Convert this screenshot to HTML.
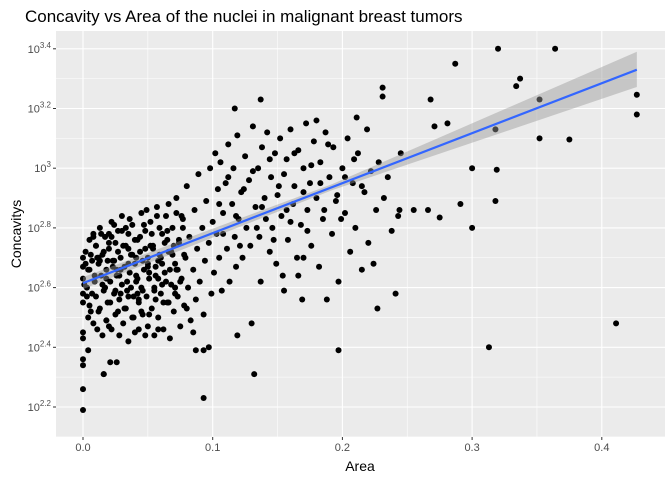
<!DOCTYPE html>
<html><head><meta charset="utf-8">
<style>
body{margin:0;background:#fff;}
svg text{font-family:"Liberation Sans",sans-serif;}
</style></head>
<body>
<svg id="chart" width="672" height="480" xmlns="http://www.w3.org/2000/svg">
<text x="25" y="22" font-size="17" fill="#000">Concavity vs Area of the nuclei in malignant breast tumors</text>
<text x="360" y="471" font-size="14" text-anchor="middle" fill="#000">Area</text>
<text transform="translate(21,234) rotate(-90)" font-size="14" text-anchor="middle" fill="#000">Concavitys</text>
</svg>
<script>
const xTicks=[0,0.1,0.2,0.3,0.4];
const xTickLabels=["0.0","0.1","0.2","0.3","0.4"];
const yTicks=[2.2,2.4,2.6,2.8,3.0,3.2,3.4];
const yTickExps=["2.2","2.4","2.6","2.8","","3.2","3.4"];
const fitX=[0,0.427];
const fitY=[2.615,3.33];
const bandLo=[2.595,3.272];
const bandHi=[2.635,3.39];
const areas=[0,0,0,0,0,0,0,0,0,0,0,0.002,0.003,0.004,0.005,0.005,0.006,0.007,0.008,0.009,0.010,0.010,0.011,0.012,0.013,0.013,0.014,0.015,0.015,0.016,0.017,0.018,0.018,0.019,0.020,0.020,0.021,0.022,0.022,0.023,0.024,0.025,0.025,0.026,0.027,0.028,0.028,0.029,0.030,0.030,0.031,0.032,0.033,0.033,0.034,0.035,0.035,0.036,0.037,0.038,0.038,0.039,0.040,0.040,0.041,0.042,0.043,0.043,0.044,0.045,0.045,0.046,0.047,0.048,0.048,0.049,0.050,0.050,0.051,0.052,0.053,0.054,0.055,0.055,0.056,0.057,0.058,0.058,0.059,0.060,0.061,0.062,0.063,0.064,0.065,0.066,0.067,0.068,0.069,0.070,0.071,0.072,0.073,0.074,0.075,0.076,0.077,0.078,0.079,0.080,0.081,0.082,0.083,0.085,0.086,0.087,0.088,0.089,0.090,0.092,0.093,0.094,0.095,0.097,0.098,0.099,0.100,0.101,0.102,0.103,0.104,0.105,0.106,0.107,0.108,0.110,0.111,0.112,0.113,0.115,0.116,0.117,0.118,0.119,0.120,0.122,0.123,0.125,0.126,0.128,0.129,0.131,0.133,0.135,0.136,0.137,0.138,0.140,0.141,0.142,0.144,0.145,0.146,0.148,0.149,0.150,0.152,0.153,0.154,0.155,0.157,0.158,0.160,0.162,0.163,0.165,0.166,0.168,0.170,0.172,0.173,0.175,0.176,0.178,0.180,0.182,0.183,0.185,0.187,0.188,0.190,0.192,0.193,0.195,0.197,0.200,0.202,0.204,0.206,0.208,0.210,0.212,0.215,0.217,0.219,0.220,0.222,0.226,0.228,0.232,0.235,0.238,0.243,0.245,
0.004,0.016,0.021,0.026,0.016,0.132,0.197,0.087,0.093,0.097,0.130,0.119,0.085,0.169,0.155,0.166,0.170,0.093,0.137,0.117,0.211,0.180,0.268,0.271,0.231,0.231,0.244,0.255,0.266,0.224,0.227,0.241,
0.320,0.364,0.287,0.337,0.334,0.427,0.427,0.352,0.318,0.352,0.375,0.281,0.300,0.319,0.318,0.291,0.300,0.411,0.313,0.275,0.02,0.035,0.05,0.065,0.012,0.028,0.042,0.058,0.072,0.008,
0.003,0.006,0.009,0.012,0.014,0.017,0.019,0.021,0.024,0.026,0.029,0.031,0.034,0.036,0.039,0.041,0.044,0.046,0.049,0.051,0.054,0.056,0.059,0.061,0.064,0.066,0.069,0.071,0.074,0.076,
0.002,0.005,0.008,0.011,0.015,0.018,0.020,0.023,0.025,0.027,0.030,0.032,0.035,0.037,0.040,0.042,0.045,0.047,0.050,0.052,0.055,0.057,0.060,0.062,0.065,0.067,0.070,0.072,0.075,0.078,
0.001,0.004,0.007,0.010,0.013,0.016,0.018,0.022,0.024,0.027,0.029,0.033,0.035,0.038,0.041,0.043,0.046,0.048,0.051,0.053,0.056,0.058,0.061,0.063,0.066,0.068,0.071,0.073,0.077,0.080,
0.105,0.112,0.118,0.124,0.131,0.138,0.144,0.151,0.157,0.163,0.170,0.176,0.183,0.189,0.196,0.202,0.209,0.215,0.108,0.121,0.134,0.147,0.160,0.173,0.186,0.199];
const concavities=[2.63,2.58,2.55,2.67,2.70,2.45,2.43,2.36,2.34,2.26,2.19,2.72,2.60,2.50,2.76,2.66,2.52,2.69,2.48,2.62,2.74,2.57,2.46,2.68,2.80,2.53,2.64,2.71,2.44,2.59,2.77,2.49,2.66,2.55,2.73,2.47,2.62,2.82,2.46,2.69,2.58,2.75,2.51,2.64,2.79,2.44,2.56,2.70,2.61,2.84,2.48,2.67,2.74,2.53,2.59,2.78,2.42,2.65,2.71,2.50,2.81,2.57,2.68,2.45,2.62,2.76,2.46,2.55,2.72,2.85,2.60,2.51,2.66,2.79,2.44,2.57,2.70,2.47,2.63,2.82,2.53,2.74,2.44,2.60,2.67,2.87,2.50,2.46,2.71,2.58,2.78,2.46,2.65,2.84,2.55,2.72,2.43,2.61,2.80,2.52,2.68,2.90,2.57,2.75,2.47,2.63,2.83,2.54,2.70,2.94,2.60,2.77,2.49,2.66,2.86,2.56,2.73,2.98,2.62,2.80,2.51,2.69,2.89,2.75,3.00,2.58,2.82,2.65,3.05,2.78,2.93,2.70,3.02,2.59,2.85,2.95,2.73,3.08,2.62,2.88,3.00,2.77,2.67,3.11,2.83,2.92,2.70,3.04,2.80,2.96,2.74,3.14,2.87,3.00,2.77,2.62,3.07,2.90,2.83,3.12,2.72,2.97,2.80,3.05,2.68,2.91,3.10,2.84,2.64,2.98,3.03,2.76,3.13,2.88,2.94,2.70,3.06,2.81,3.00,3.15,2.86,2.95,2.74,3.09,2.90,2.67,3.02,2.83,3.12,2.56,2.97,2.78,3.07,2.89,2.62,3.00,2.85,3.10,2.72,2.95,2.80,3.05,2.66,2.92,3.13,2.75,2.99,2.86,3.02,2.90,2.97,2.79,2.84,3.05,
2.39,2.31,2.35,2.35,2.31,2.31,2.39,2.39,2.39,2.40,2.48,2.44,2.45,2.56,2.59,2.64,2.70,2.23,3.23,3.20,3.17,3.16,3.23,3.14,3.27,3.24,2.86,2.86,2.86,2.68,2.53,2.58,
3.40,3.40,3.35,3.30,3.275,3.246,3.18,3.23,3.13,3.10,3.096,3.15,3.00,2.995,2.89,2.88,2.80,2.48,2.40,2.835,2.78,2.73,2.68,2.76,2.70,2.64,2.58,2.63,2.66,2.78,
2.57,2.71,2.64,2.52,2.78,2.60,2.69,2.55,2.81,2.66,2.58,2.74,2.62,2.83,2.50,2.70,2.77,2.59,2.86,2.65,2.73,2.56,2.80,2.68,2.62,2.88,2.71,2.58,2.76,2.84,
2.68,2.54,2.77,2.70,2.61,2.49,2.75,2.67,2.59,2.72,2.79,2.53,2.68,2.60,2.76,2.63,2.52,2.81,2.67,2.74,2.59,2.84,2.70,2.55,2.79,2.66,2.74,2.85,2.62,2.71,
2.61,2.66,2.58,2.74,2.69,2.72,2.63,2.77,2.69,2.52,2.66,2.80,2.57,2.71,2.64,2.56,2.69,2.73,2.51,2.78,2.64,2.69,2.61,2.75,2.55,2.72,2.60,2.66,2.80,2.53,
2.88,2.97,2.84,2.93,2.99,2.87,3.03,2.94,2.86,3.05,2.92,3.01,2.95,3.08,2.91,2.97,3.03,2.94,2.78,2.74,2.80,2.76,2.82,2.79,2.86,2.83];

const svg=document.getElementById('chart');
const NS='http://www.w3.org/2000/svg';
const PL=56,PR=665,PT=31,PB=437;
const X=v=>83+v*1297;
const Y=v=>407-(v-2.2)*298.5;
function mk(tag,attrs,parent){const e=document.createElementNS(NS,tag);for(const k in attrs)e.setAttribute(k,attrs[k]);(parent||svg).appendChild(e);return e;}
const panel=mk('rect',{x:PL,y:PT,width:PR-PL,height:PB-PT,fill:'#EBEBEB'});


const grid=mk('g',{});


for(let i=0;i<yTicks.length;i++){
  const y=Y(yTicks[i]);
  mk('line',{x1:PL,x2:PR,y1:y,y2:y,stroke:'#fff','stroke-width':1.1},grid);
  const ym=Y(yTicks[i]+0.1);
  if(ym>PT) mk('line',{x1:PL,x2:PR,y1:ym,y2:ym,stroke:'#fff','stroke-width':0.55},grid);
}
const ymb=Y(2.1);mk('line',{x1:PL,x2:PR,y1:ymb,y2:ymb,stroke:'#fff','stroke-width':0.55},grid);
for(let i=0;i<xTicks.length;i++){
  const x=X(xTicks[i]);
  mk('line',{x1:x,x2:x,y1:PT,y2:PB,stroke:'#fff','stroke-width':1.1},grid);
  const xm=X(xTicks[i]+0.05);
  if(xm<PR) mk('line',{x1:xm,x2:xm,y1:PT,y2:PB,stroke:'#fff','stroke-width':0.55},grid);
}
for(let i=0;i<xTicks.length;i++){
  const x=X(xTicks[i]);
  const t=mk('line',{x1:x,x2:x,y1:PB,y2:PB+3,stroke:'#333','stroke-width':1});
  
  
  const l=mk('text',{x:x,y:PB+14,'font-size':11,'text-anchor':'middle',fill:'#4D4D4D'});
  
  
  l.textContent=xTickLabels[i];
}
for(let i=0;i<yTicks.length;i++){
  const y=Y(yTicks[i]);
  const t=mk('line',{x1:PL-3,x2:PL,y1:y,y2:y,stroke:'#333','stroke-width':1});
  
  
  const l=mk('text',{x:PL-5,y:y+4,'font-size':11,'text-anchor':'end',fill:'#4D4D4D'});
  
  
  const exp=yTickExps[i]||"3";
  const b=mk('tspan',{},l);b.textContent='10';
  const s=mk('tspan',{dy:-5,'font-size':8},l);s.textContent=exp;
}
const pts=mk('g',{});


for(let i=0;i<areas.length;i++){
  const c=mk('circle',{cx:X(areas[i]),cy:Y(concavities[i]),r:3,fill:'#000'},pts);
  
  
}
const band=mk('polygon',{points:`${X(fitX[0])},${Y(bandHi[0])} ${X((fitX[0]+fitX[1])*0.45)},${Y(fitY[0]+(fitY[1]-fitY[0])*0.45+0.01)} ${X(fitX[1])},${Y(bandHi[1])} ${X(fitX[1])},${Y(bandLo[1])} ${X((fitX[0]+fitX[1])*0.45)},${Y(fitY[0]+(fitY[1]-fitY[0])*0.45-0.01)} ${X(fitX[0])},${Y(bandLo[0])}`,fill:'#999','fill-opacity':0.45});


const fl=mk('line',{x1:X(fitX[0]),y1:Y(fitY[0]),x2:X(fitX[1]),y2:Y(fitY[1]),stroke:'#3366FF','stroke-width':2.2});


</script>
</body></html>
